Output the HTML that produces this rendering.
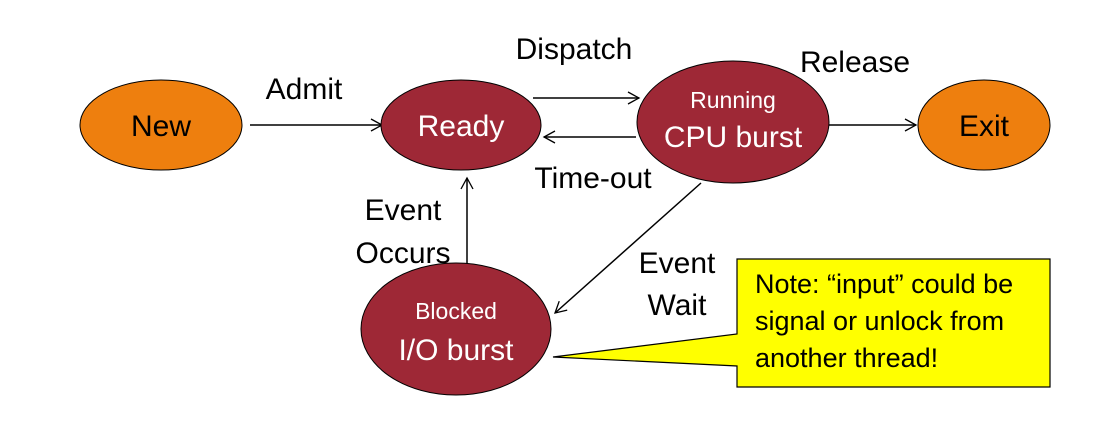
<!DOCTYPE html>
<html><head><style>
body{margin:0;background:#fff;}
svg{display:block}
text{font-family:"Liberation Sans",sans-serif;}
</style></head><body>
<svg width="1111" height="430" viewBox="0 0 1111 430">
<defs>
<marker id="a" markerWidth="14" markerHeight="14" refX="12" refY="7" orient="auto" markerUnits="userSpaceOnUse">
<path d="M1,1 L12,7 L1,13" fill="none" stroke="#000" stroke-width="1.3"/>
</marker>
</defs>
<g stroke="#000" stroke-width="1.5" fill="none">
<line x1="250" y1="125" x2="382" y2="125" marker-end="url(#a)"/>
<line x1="533" y1="98" x2="639" y2="98" marker-end="url(#a)"/>
<line x1="636" y1="137" x2="544" y2="137" marker-end="url(#a)"/>
<line x1="829" y1="125" x2="916" y2="125" marker-end="url(#a)"/>
<line x1="701" y1="183" x2="555" y2="313" marker-end="url(#a)"/>
<line x1="467" y1="268" x2="467" y2="178" marker-end="url(#a)"/>
</g>
<g stroke="#000" stroke-width="1">
<ellipse cx="161" cy="125" rx="81" ry="45" fill="#ee7f0e"/>
<ellipse cx="461" cy="125" rx="80" ry="45" fill="#9e2836"/>
<ellipse cx="733" cy="122" rx="96" ry="61" fill="#9e2836"/>
<ellipse cx="984" cy="125" rx="66" ry="45" fill="#ee7f0e"/>
<ellipse cx="456" cy="329" rx="95" ry="66" fill="#9e2836"/>
</g>
<path d="M737,259 H1050 V387 H737 V366 L553,357 L737,334 Z" fill="#ffff00" stroke="#000" stroke-width="1.2"/>
<g font-size="30" text-anchor="middle">
<text x="161" y="136">New</text>
<text x="461" y="136" fill="#fff">Ready</text>
<text x="733" y="108" fill="#fff" font-size="23">Running</text>
<text x="733" y="147" fill="#fff">CPU burst</text>
<text x="984" y="136">Exit</text>
<text x="456" y="319" fill="#fff" font-size="23">Blocked</text>
<text x="456" y="360" fill="#fff">I/O burst</text>
<text x="304" y="99">Admit</text>
<text x="574" y="59">Dispatch</text>
<text x="855" y="72">Release</text>
<text x="593" y="188">Time-out</text>
<text x="403" y="220">Event</text>
<text x="403" y="263">Occurs</text>
<text x="677" y="273">Event</text>
<text x="677" y="315">Wait</text>
</g>
<g font-size="27">
<text x="755" y="293">Note: “input” could be</text>
<text x="755" y="330">signal or unlock from</text>
<text x="755" y="367">another thread!</text>
</g>
</svg>
</body></html>
